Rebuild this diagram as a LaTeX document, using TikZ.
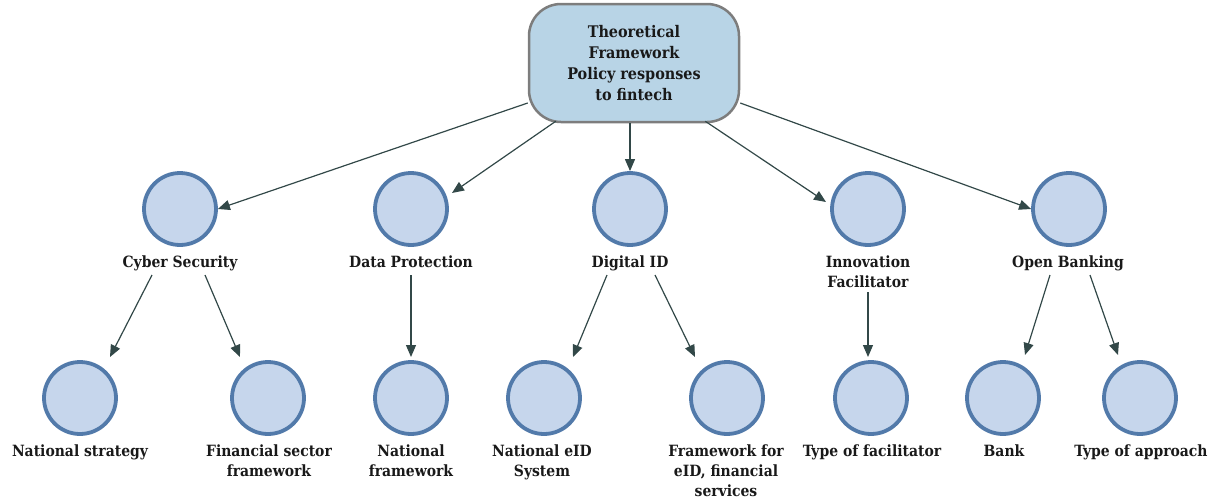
\documentclass[tikz,border=0pt]{standalone}
\usepackage{fontspec}
\setmainfont{DejaVu Serif Condensed}
\usetikzlibrary{arrows.meta,calc}

\definecolor{circfill}{RGB}{198,214,236}
\definecolor{circline}{RGB}{82,122,170}
\definecolor{topfill}{RGB}{184,212,230}
\definecolor{topline}{RGB}{125,125,125}
\definecolor{arrowc}{RGB}{50,72,72}
\definecolor{txt}{RGB}{25,25,25}

\begin{document}
\begin{tikzpicture}[x=1pt,y=-1pt,
  circ/.style={circle,draw=circline,fill=circfill,line width=3.8pt,minimum size=72pt,inner sep=0pt},
  lab/.style={font=\bfseries\fontsize{15.5}{20}\selectfont,text=txt,align=center,anchor=base,inner sep=0pt},
  arr/.style={draw=arrowc,line width=1.2pt,-{Triangle[length=12pt,width=10pt]}},
  topbox/.style={draw=topline,fill=topfill,line width=2.5pt,rounded corners=32pt,minimum width=210pt,minimum height=118pt,align=center,text=txt,font=\bfseries\fontsize{16}{21}\selectfont}]
\useasboundingbox (0,0) rectangle (1219,498);

% top node
\node[topbox] (top) at (634,63) {Theoretical\\Framework\\Policy responses\\to fintech};

% level 1
\node[circ] (cs) at (180,209) {};
\node[circ] (dp) at (411,209) {};
\node[circ] (di) at (630,209) {};
\node[circ] (inn) at (868,209) {};
\node[circ] (ob) at (1069,209) {};

% labels: anchor=base is the baseline of the last line
\node[lab] (csl) at (180,267) {Cyber Security};
\node[lab] (dpl) at (411,267) {Data Protection};
\node[lab] (dil) at (630,267) {Digital ID};
\node[lab] (innl) at (868,287) {Innovation\\Facilitator};
\node[lab] (obl) at (1068,267) {Open Banking};

% level 2
\node[circ] (ns) at (80,398) {};
\node[circ] (fs) at (268,398) {};
\node[circ] (nf) at (411,398) {};
\node[circ] (ne) at (544,398) {};
\node[circ] (fe) at (727,398) {};
\node[circ] (tf) at (871,398) {};
\node[circ] (bk) at (1003,398) {};
\node[circ] (ta) at (1140,398) {};

\node[lab] (nsl) at (80,456) {National strategy};
\node[lab] (fsl) at (269,476) {Financial sector\\framework};
\node[lab] (nfl) at (411,476) {National\\framework};
\node[lab] (nel) at (542,476) {National eID\\System};
\node[lab] (fel) at (726,496) {Framework for\\eID, financial\\services};
\node[lab] (tfl) at (872,456) {Type of facilitator};
\node[lab] (bkl) at (1004,456) {Bank};
\node[lab] (tal) at (1141,456) {Type of approach};

% arrows from top
\draw[arr] ($(top.west)+(0,40)$) -- (cs.east);
\draw[arr] ($(top.south west)+(28,-2)$) -- ($(dp)+(41,-16)$);
\draw[arr] (top.south -| di.north) -- (di.north);
\draw[arr] ($(top.south east)+(-35,-2)$) -- ($(inn)+(-42,-7)$);
\draw[arr] ($(top.east)+(0,40)$) -- (ob.west);

% arrows to level 2
\draw[arr] ($(csl.base)+(-28,8)$) -- ($(ns)+(30,-41)$);
\draw[arr] ($(csl.base)+(25,8)$) -- ($(fs)+(-28,-41)$);
\draw[arr] ($(dpl.base)+(0,8)$) -- ($(nf)+(0,-41)$);
\draw[arr] ($(dil.base)+(-23,8)$) -- ($(ne)+(29,-41)$);
\draw[arr] ($(dil.base)+(25,8)$) -- ($(fe)+(-32,-41)$);
\draw[arr] ($(innl.base)+(0,5)$) -- ($(tf)+(-3,-41)$);
\draw[arr] ($(obl.base)+(-18,8)$) -- ($(bk)+(22,-43)$);
\draw[arr] ($(obl.base)+(22,8)$) -- ($(ta)+(-22,-43)$);
\end{tikzpicture}
\end{document}
